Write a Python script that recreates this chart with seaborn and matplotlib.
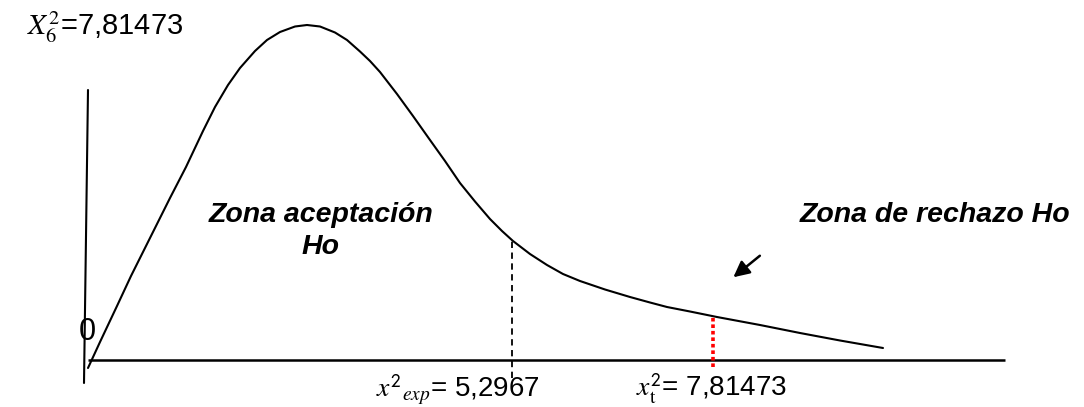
import matplotlib
matplotlib.use("Agg")
import matplotlib.pyplot as plt
import seaborn as sns

sns.set_theme(style="white")
plt.rcParams["font.family"] = ["Liberation Sans", "DejaVu Sans"]
plt.rcParams["mathtext.fontset"] = "stix"
plt.rcParams["text.color"] = "black"

# chi-square (6 df) sketch
curve_x = [0.0, 0.15, 0.3625, 0.5375, 0.7125, 0.875, 1.025, 1.225, 1.4375, 1.5875,
           1.75, 1.9, 2.0875, 2.2375, 2.4, 2.5875, 2.7375, 2.9, 3.0875, 3.2375,
           3.4, 3.525, 3.65, 3.8625, 4.0625, 4.275, 4.4625, 4.65, 4.8375, 5.025,
           5.175, 5.3125, 5.525, 5.7375, 5.9375, 6.15, 6.4625, 6.775, 7.025,
           7.2375, 7.525, 7.8625, 8.4, 8.9, 9.4, 9.9375]
curve_y = [-0.004, 0.009, 0.027, 0.042, 0.056, 0.069, 0.081, 0.0965, 0.1145, 0.1265,
           0.1375, 0.146, 0.1545, 0.160, 0.164, 0.16675, 0.1675, 0.16675, 0.16375, 0.160,
           0.15425, 0.1495, 0.144, 0.133, 0.122, 0.110, 0.0995, 0.0885, 0.07925, 0.0705,
           0.0645, 0.0595, 0.053, 0.0475, 0.043, 0.0395, 0.03525, 0.0315, 0.02875,
           0.0265, 0.02425, 0.0215, 0.0175, 0.0135, 0.00975, 0.006]

chi_exp = 5.2967
chi_tab = 7.81473
crit_x = [chi_exp, chi_tab]
crit_top = [0.0605, 0.0215]
crit_bottom = [-0.009, -0.0035]

axis_end = 11.46
yaxis_top = 0.135
yaxis_bottom = -0.0115

fig = plt.figure(figsize=(10.84, 4.07), dpi=100)
ax = fig.add_axes([0, 0, 1, 1])
ax.set_xlim(-1.1, 12.45)
ax.set_ylim(-0.0235, 0.18)
ax.axis("off")

# axes of the sketch
ax.plot([0, axis_end], [0, 0], color="black", lw=1.8, solid_capstyle="butt")
ax.plot([0, -0.05], [yaxis_top, yaxis_bottom], color="black", lw=1.5)

# density curve
sns.lineplot(x=curve_x, y=curve_y, sort=False, estimator=None, color="black", lw=1.5, ax=ax)

# critical values
ax.vlines(crit_x[0], crit_bottom[0], crit_top[0], color="black", lw=1.3,
          linestyles=(0, (3.5, 2.5)))
ax.vlines(crit_x[1], crit_bottom[1], crit_top[1], color="red", lw=2.6,
          linestyles=(0, (1, 0.8)))

# arrow to rejection zone
ax.annotate("", xy=(8.04, 0.0405), xytext=(8.425, 0.053),
            arrowprops=dict(arrowstyle="-|>", color="black", lw=1.8, mutation_scale=24))

# labels
ax.text(1.1875, 0.1625, "$X_6^2$=7,81473", fontsize=21, ha="right", va="baseline")
ax.text(-0.0125, 0.014, "0", fontsize=22, ha="center", va="center")
ax.text(2.9125, 0.06425, "Zona aceptación\nHo", fontsize=20.5, fontweight="bold",
        fontstyle="italic", ha="center", va="center", linespacing=1.3)
ax.text(10.5875, 0.0725, "Zona de rechazo Ho", fontsize=20.5, fontweight="bold",
        fontstyle="italic", ha="center", va="center")
ax.text(5.65, -0.0185, r"$x^{\mathsf{2}}{}_{exp}$= 5,2967", fontsize=20,
        ha="right", va="baseline")
ax.text(8.7375, -0.0185, r"$x_{\mathrm{t}}^{\mathsf{2}}$= 7,81473", fontsize=20,
        ha="right", va="baseline")

fig.savefig("out.png", dpi=100)
